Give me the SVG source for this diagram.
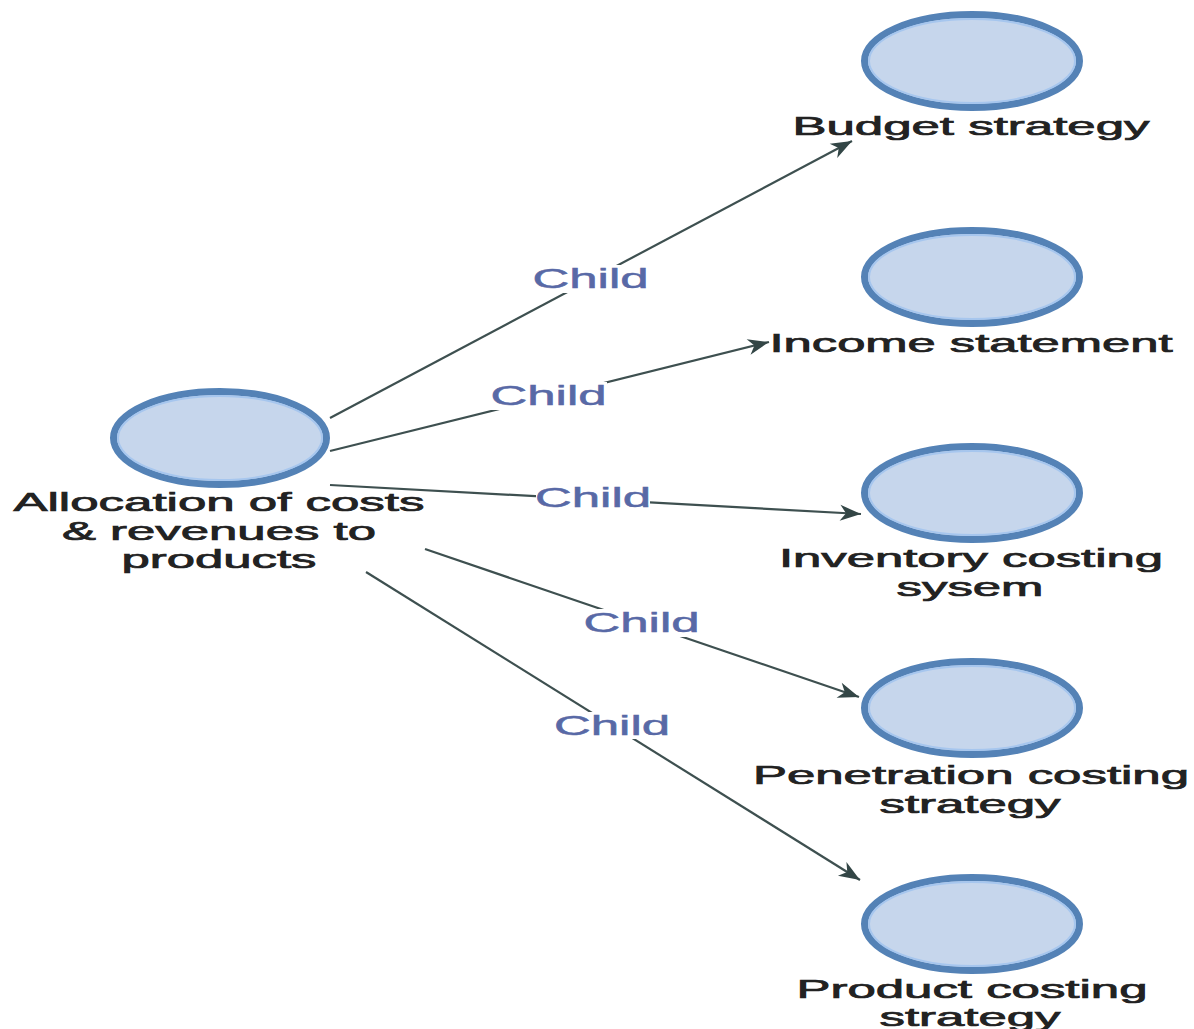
<svg xmlns="http://www.w3.org/2000/svg" width="1194" height="1029" viewBox="0 0 1194 1029">
  <style>
    .outer { fill: #c6d6ec; stroke: #5482b6; stroke-width: 7; }
    .inner { fill: none; stroke: #a6c6ee; stroke-width: 2; }
    .lbl { font-family: "Liberation Sans", Arial, sans-serif; font-size: 25px; fill: #222222; stroke: #222222; stroke-width: 0.7; text-anchor: middle; }
    .edge { stroke: #3e5050; stroke-width: 2.2; fill: none; }
    .ebg { fill: #ffffff; }
    .etxt { font-family: "Liberation Sans", Arial, sans-serif; font-size: 27px; fill: #5869a6; stroke: #5869a6; stroke-width: 0.5; text-anchor: middle; }
  </style>
  <defs>
    <marker id="arrow" markerUnits="userSpaceOnUse" markerWidth="26" markerHeight="20" viewBox="-22 -10 24 20" refX="0" refY="0" orient="auto">
      <path d="M0,0 L-21,-8 L-15,0 L-21,8 Z" fill="#334646"/>
    </marker>
  </defs>
  <rect width="1194" height="1029" fill="#ffffff"/>

  <g id="connectors">
    <g id="e1">
      <line class="edge" x1="330" y1="418" x2="852" y2="141" marker-end="url(#arrow)"/>
      <rect class="ebg" x="532" y="265" width="117" height="28"/>
      <text class="etxt" x="590.5" y="288" textLength="116" lengthAdjust="spacingAndGlyphs">Child</text>
    </g>
    <g id="e2">
      <line class="edge" x1="330" y1="451" x2="769" y2="342" marker-end="url(#arrow)"/>
      <rect class="ebg" x="491" y="382" width="116" height="28"/>
      <text class="etxt" x="548.5" y="405" textLength="116" lengthAdjust="spacingAndGlyphs">Child</text>
    </g>
    <g id="e3">
      <line class="edge" x1="330" y1="485" x2="861" y2="514" marker-end="url(#arrow)"/>
      <rect class="ebg" x="536" y="484" width="114" height="28"/>
      <text class="etxt" x="593" y="507" textLength="116" lengthAdjust="spacingAndGlyphs">Child</text>
    </g>
    <g id="e4">
      <line class="edge" x1="425" y1="549" x2="859" y2="697" marker-end="url(#arrow)"/>
      <rect class="ebg" x="583" y="609" width="117" height="28"/>
      <text class="etxt" x="641.5" y="632" textLength="116" lengthAdjust="spacingAndGlyphs">Child</text>
    </g>
    <g id="e5">
      <line class="edge" x1="366" y1="572" x2="860" y2="880" marker-end="url(#arrow)"/>
      <rect class="ebg" x="553" y="712" width="117" height="27"/>
      <text class="etxt" x="612" y="735" textLength="116" lengthAdjust="spacingAndGlyphs">Child</text>
    </g>
  </g>

  <g id="n-alloc">
    <ellipse class="outer" cx="220" cy="438" rx="106.5" ry="46.5"/>
    <ellipse class="inner" cx="220" cy="438" rx="102" ry="42"/>
    <text class="lbl" x="219" y="511" textLength="411" lengthAdjust="spacingAndGlyphs">Allocation of costs</text>
    <text class="lbl" x="219" y="539.5" textLength="314" lengthAdjust="spacingAndGlyphs">&amp; revenues to</text>
    <text class="lbl" x="219" y="568" textLength="195" lengthAdjust="spacingAndGlyphs">products</text>
  </g>

  <g id="n-budget">
    <ellipse class="outer" cx="972" cy="61" rx="107.5" ry="46.5"/>
    <ellipse class="inner" cx="972" cy="61" rx="103" ry="42"/>
    <text class="lbl" x="971" y="135" textLength="357" lengthAdjust="spacingAndGlyphs">Budget strategy</text>
  </g>

  <g id="n-income">
    <ellipse class="outer" cx="972" cy="277" rx="107.5" ry="46.5"/>
    <ellipse class="inner" cx="972" cy="277" rx="103" ry="42"/>
    <text class="lbl" x="971" y="352" textLength="403" lengthAdjust="spacingAndGlyphs">Income statement</text>
  </g>

  <g id="n-inventory">
    <ellipse class="outer" cx="972" cy="493" rx="107.5" ry="46.5"/>
    <ellipse class="inner" cx="972" cy="493" rx="103" ry="42"/>
    <text class="lbl" x="971" y="567" textLength="384" lengthAdjust="spacingAndGlyphs">Inventory costing</text>
    <text class="lbl" x="970" y="595.5" textLength="147" lengthAdjust="spacingAndGlyphs">sysem</text>
  </g>

  <g id="n-penetration">
    <ellipse class="outer" cx="972" cy="708" rx="107.5" ry="46.5"/>
    <ellipse class="inner" cx="972" cy="708" rx="103" ry="42"/>
    <text class="lbl" x="971" y="784" textLength="436" lengthAdjust="spacingAndGlyphs">Penetration costing</text>
    <text class="lbl" x="970" y="812.5" textLength="181" lengthAdjust="spacingAndGlyphs">strategy</text>
  </g>

  <g id="n-product">
    <ellipse class="outer" cx="972" cy="924" rx="107.5" ry="46.5"/>
    <ellipse class="inner" cx="972" cy="924" rx="103" ry="42"/>
    <text class="lbl" x="972" y="998" textLength="351" lengthAdjust="spacingAndGlyphs">Product costing</text>
    <text class="lbl" x="970" y="1026" textLength="181" lengthAdjust="spacingAndGlyphs">strategy</text>
  </g>
</svg>
